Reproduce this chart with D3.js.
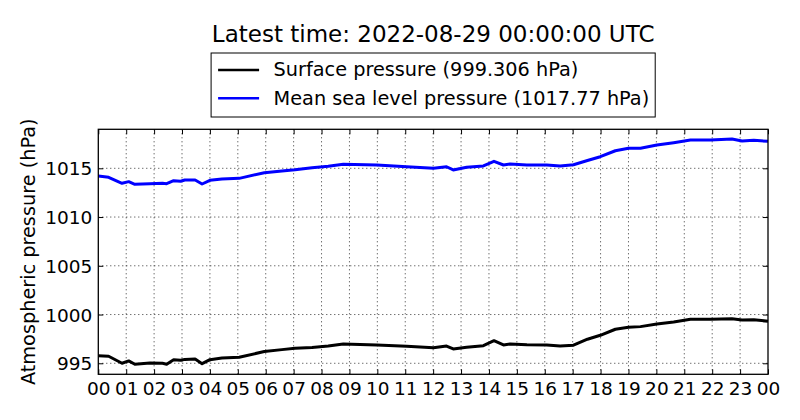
<!DOCTYPE html>
<html>
<head>
<meta charset="utf-8">
<script src="https://cdn.jsdelivr.net/npm/d3@7"></script>
<style>
  body { margin: 0; background: #fff; }
  svg { display: block; font-family: "DejaVu Sans", sans-serif; }
</style>
</head>
<body>
<div id="chart"></div>
<script>
// values, hours since 2022-08-28 00:00 UTC
var hours = [0, 0.37, 0.85, 1.09, 1.31, 1.85, 2.3, 2.45, 2.7, 2.95, 3.1, 3.47, 3.72, 4.0, 4.43,
    5.05, 5.95, 6.58, 7.05, 7.66, 8.24, 8.78, 9.98, 11.05, 12.01, 12.48, 12.72, 13.2, 13.8,
    14.18, 14.52, 14.76, 15.36, 16.07, 16.55, 17.03, 17.53, 17.99, 18.53, 19.0, 19.43, 20.02,
    20.62, 21.22, 21.94, 22.71, 23.07, 23.49, 24];

var surface_pressure = [995.78, 995.72, 995.0, 995.24, 994.9, 995.03, 995.0, 994.9, 995.37, 995.31,
    995.4, 995.44, 994.96, 995.37, 995.54, 995.62, 996.2, 996.4, 996.54, 996.62, 996.77, 996.98,
    996.88, 996.74, 996.6, 996.77, 996.47, 996.64, 996.81, 997.32, 996.88, 996.98, 996.91, 996.88,
    996.78, 996.85, 997.47, 997.87, 998.49, 998.69, 998.76, 999.03, 999.24, 999.51, 999.51, 999.57,
    999.44, 999.47, 999.306];

var msl_pressure = [1014.2, 1014.08, 1013.46, 1013.63, 1013.36, 1013.42, 1013.46, 1013.42, 1013.73,
    1013.67, 1013.8, 1013.8, 1013.39, 1013.77, 1013.9, 1013.97, 1014.55, 1014.72, 1014.85, 1015.06,
    1015.2, 1015.41, 1015.34, 1015.16, 1015.0, 1015.16, 1014.83, 1015.1, 1015.24, 1015.72, 1015.34,
    1015.44, 1015.34, 1015.34, 1015.24, 1015.37, 1015.8, 1016.19, 1016.8, 1017.05, 1017.05, 1017.39,
    1017.63, 1017.9, 1017.9, 1018.0, 1017.8, 1017.87, 1017.77];

var series_names = ['Surface pressure (999.306 hPa)', 'Mean sea level pressure (1017.77 hPa)'];
var series_colors = ['#000000', '#0000ff'];
var y_ticks = [995, 1000, 1005, 1010, 1015];
var y_domain = [993.87, 1019.0];
var title_text = 'Latest time: 2022-08-29 00:00:00 UTC';
var y_label = 'Atmospheric pressure (hPa)';

var width = 800, height = 420;
var margin = {top: 129.3, right: 32, bottom: 45.7, left: 98.3};
var w = width - margin.left - margin.right;
var h = height - margin.top - margin.bottom;

var t0 = Date.UTC(2022, 7, 28);
var times = hours.map(function(d) { return new Date(t0 + d * 3600e3); });

var svg = d3.select('#chart').append('svg')
    .attr('width', width)
    .attr('height', height);

var x = d3.scaleUtc()
    .domain([new Date(t0), new Date(t0 + 24 * 3600e3)])
    .range([0, w]);
var y = d3.scaleLinear()
    .domain(y_domain)
    .range([h, 0]);

var g = svg.append('g')
    .attr('transform', 'translate(' + margin.left + ',' + margin.top + ')');

var x_ticks = x.ticks(d3.utcHour.every(1));

// dotted grid
g.append('g').attr('class', 'grid')
  .selectAll('line.v')
  .data(x_ticks.slice(1, -1))
  .enter().append('line')
    .attr('x1', function(d) { return x(d); })
    .attr('x2', function(d) { return x(d); })
    .attr('y1', 0).attr('y2', h);
g.select('.grid')
  .selectAll('line.h')
  .data(y_ticks)
  .enter().append('line')
    .attr('x1', 0).attr('x2', w)
    .attr('y1', function(d) { return y(d); })
    .attr('y2', function(d) { return y(d); });
g.selectAll('.grid line')
    .attr('stroke', '#333')
    .attr('stroke-width', 1)
    .attr('stroke-dasharray', '1,3');

// lines
var line = d3.line()
    .x(function(d) { return x(d[0]); })
    .y(function(d) { return y(d[1]); });

[surface_pressure, msl_pressure].forEach(function(vals, i) {
    g.append('path')
        .datum(d3.zip(times, vals))
        .attr('fill', 'none')
        .attr('stroke', series_colors[i])
        .attr('stroke-width', 3)
        .attr('stroke-linejoin', 'round')
        .attr('d', line);
});

// axes, ticks pointing inward on all four sides
var fmt = d3.utcFormat('%H');
var xb = g.append('g')
    .attr('transform', 'translate(0,' + h + ')')
    .call(d3.axisBottom(x).tickValues(x_ticks).tickFormat(fmt).tickSizeInner(-5).tickSizeOuter(0).tickPadding(8));
var xt = g.append('g')
    .call(d3.axisTop(x).tickValues(x_ticks).tickFormat('').tickSizeInner(-5).tickSizeOuter(0));
var yl = g.append('g')
    .call(d3.axisLeft(y).tickValues(y_ticks).tickFormat(d3.format('d')).tickSizeInner(-5).tickSizeOuter(0).tickPadding(6));
var yr = g.append('g')
    .attr('transform', 'translate(' + w + ',0)')
    .call(d3.axisRight(y).tickValues(y_ticks).tickFormat('').tickSizeInner(-5).tickSizeOuter(0));

[xb, xt, yl, yr].forEach(function(a) {
    a.select('.domain').remove();
    a.selectAll('line').attr('stroke', '#000').attr('stroke-width', 1);
    a.selectAll('text')
        .attr('fill', '#000')
        .style('font-family', '"DejaVu Sans", sans-serif')
        .style('font-size', '18.5px');
});
yl.selectAll('text').attr('dy', '0.36em');

g.append('rect')
    .attr('width', w).attr('height', h)
    .attr('fill', 'none')
    .attr('stroke', '#000')
    .attr('stroke-width', 1.3);

// y label
svg.append('text')
    .attr('transform', 'translate(35,' + (margin.top + h / 2) + ') rotate(-90)')
    .attr('text-anchor', 'middle')
    .style('font-size', '19.3px')
    .text(y_label);

// title
var cx = margin.left + w / 2;
svg.append('text')
    .attr('x', cx).attr('y', 42)
    .attr('text-anchor', 'middle')
    .style('font-size', '23px')
    .text(title_text);

// legend
var legend = svg.append('g');
var legend_box = legend.append('rect')
    .attr('fill', '#fff')
    .attr('stroke', '#000')
    .attr('stroke-width', 1);
var items = legend.selectAll('g.item')
    .data(series_names)
    .enter().append('g')
    .attr('class', 'item')
    .attr('transform', function(d, i) { return 'translate(0,' + (i * 28.3) + ')'; });
items.append('line')
    .attr('x1', 7).attr('x2', 48)
    .attr('y1', 17).attr('y2', 17)
    .attr('stroke', function(d, i) { return series_colors[i]; })
    .attr('stroke-width', 2.5);
items.append('text')
    .attr('x', 62.5).attr('y', 23.3)
    .style('font-size', '19.3px')
    .text(function(d) { return d; });

var max_len = d3.max(items.selectAll('text').nodes(), function(n) { return n.getComputedTextLength(); });
var box_w = 62.5 + max_len + 6;
legend_box.attr('width', box_w).attr('height', 64);
legend.attr('transform', 'translate(' + (cx - box_w / 2) + ',53)');
</script>
</body>
</html>
